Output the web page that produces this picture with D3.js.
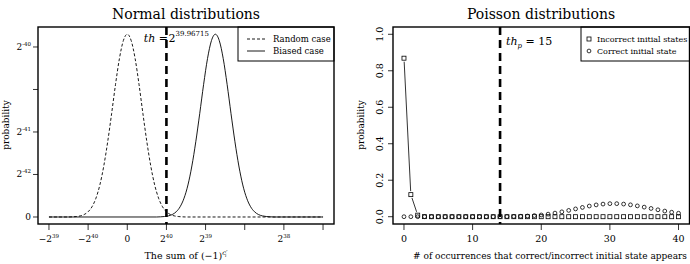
<!DOCTYPE html>
<html>
<head>
<meta charset="utf-8">
<script src="https://cdn.jsdelivr.net/npm/d3@7"></script>
<style>
  body { margin: 0; background: #fff; }
  svg text { font-family: "DejaVu Serif", serif; fill: #000; }
</style>
</head>
<body>
<div id="chart"></div>
<script>
// ---- data: normal distributions (x in tick units, y in tick units) ----
const randomX = [-2, -1.5, -1.4, -1.3, -1.2, -1.1, -1.0, -0.9, -0.8, -0.7, -0.6, -0.5, -0.4, -0.3, -0.2, -0.1, 0,
                 0.1, 0.2, 0.3, 0.4, 0.5, 0.6, 0.7, 0.8, 0.9, 1.0, 1.1, 1.2, 1.3, 1.4, 1.5, 5]
const randomY = [0, 0, 0.004, 0.011, 0.026, 0.058, 0.123, 0.241, 0.442, 0.754, 1.20, 1.77, 2.43, 3.12, 3.73, 4.15, 4.3,
                 4.15, 3.73, 3.12, 2.43, 1.77, 1.20, 0.754, 0.442, 0.241, 0.123, 0.058, 0.026, 0.011, 0.004, 0, 0]
const biasedX = [-2, 0.75, 0.85, 0.95, 1.05, 1.15, 1.25, 1.35, 1.45, 1.55, 1.65, 1.75, 1.85, 1.95, 2.05, 2.15, 2.25,
                 2.35, 2.45, 2.55, 2.65, 2.75, 2.85, 2.95, 3.05, 3.15, 3.25, 3.35, 3.45, 3.55, 3.65, 3.75, 5]
const biasedY = [0, 0, 0.004, 0.011, 0.026, 0.058, 0.123, 0.241, 0.442, 0.754, 1.20, 1.77, 2.43, 3.12, 3.73, 4.15, 4.3,
                 4.15, 3.73, 3.12, 2.43, 1.77, 1.20, 0.754, 0.442, 0.241, 0.123, 0.058, 0.026, 0.011, 0.004, 0, 0]
const normXTicks = [-2, -1, 0, 1, 2, 3, 4, 5]
const normXLabels = [["−2", "39"], ["−2", "40"], ["0", ""], ["2", "40"], ["2", "39"], null, ["2", "38"], null]
const normYTicks = [0, 1, 2, 3, 4]
const normYLabels = [["0", ""], ["2", "-42"], ["2", "-41"], null, ["2", "-40"]]
const normThreshold = 1

// ---- data: poisson distributions ----
const occurrences = d3.range(0, 41)
const incorrectProb = [0.869, 0.121, 0.0085, 0.0004, 0, 0, 0, 0, 0, 0, 0, 0, 0, 0, 0, 0, 0, 0, 0, 0, 0,
                       0, 0, 0, 0, 0, 0, 0, 0, 0, 0, 0, 0, 0, 0, 0, 0, 0, 0, 0, 0]
const correctProb = [0, 0, 0, 0, 0, 0, 0, 0, 0, 0, 0, 0, 0, 0, 0.0003, 0.0006, 0.0012, 0.0022, 0.0038, 0.0061, 0.0095,
                     0.0141, 0.0198, 0.0267, 0.0345, 0.0427, 0.0509, 0.0585, 0.0647, 0.0692, 0.0715,
                     0.0715, 0.0693, 0.0651, 0.0593, 0.0525, 0.0452, 0.0379, 0.0309, 0.0246, 0.0190]
const poisXTicks = [0, 10, 20, 30, 40]
const poisYTicks = [0, 0.2, 0.4, 0.6, 0.8, 1.0]
const poisThreshold = 14

const W = 690, H = 264

const svg = d3.select("#chart").append("svg")
  .attr("width", W).attr("height", H)

// ================= left panel =================
const xL = d3.scaleLinear().domain([-2.28, 5.28]).range([38, 334])
const yL = d3.scaleLinear().domain([-0.165, 4.47]).range([224, 27])

const left = svg.append("g")

left.append("text")
  .attr("x", 186).attr("y", 19)
  .attr("text-anchor", "middle")
  .style("font-size", "14px")
  .text("Normal distributions")

// x ticks
const lx = left.append("g")
normXTicks.forEach(function(t, i) {
  lx.append("line")
    .attr("x1", xL(t)).attr("x2", xL(t))
    .attr("y1", 224).attr("y2", 230)
    .attr("stroke", "#000").attr("stroke-width", 0.8)
  const lab = normXLabels[i]
  if (lab) {
    const tx = lx.append("text")
      .attr("x", xL(t)).attr("y", 242)
      .attr("text-anchor", "middle")
      .style("font-size", "9px")
    tx.append("tspan").text(lab[0])
    if (lab[1]) tx.append("tspan").attr("dy", -4).style("font-size", "5.5px").text(lab[1])
  }
})

// y ticks
normYTicks.forEach(function(t, i) {
  left.append("line")
    .attr("x1", 33).attr("x2", 38)
    .attr("y1", yL(t)).attr("y2", yL(t))
    .attr("stroke", "#000").attr("stroke-width", 0.8)
  const lab = normYLabels[i]
  if (lab) {
    const ty = left.append("text")
      .attr("x", 31).attr("y", yL(t) + 3)
      .attr("text-anchor", "end")
      .style("font-size", "9px")
    ty.append("tspan").text(lab[0])
    if (lab[1]) ty.append("tspan").attr("dy", -4).style("font-size", "5.5px").text(lab[1])
  }
})

left.append("text")
  .attr("transform", "translate(9,125) rotate(-90)")
  .attr("text-anchor", "middle")
  .style("font-size", "9px")
  .text("probability")

const xlab = left.append("text")
  .attr("x", 186).attr("y", 259)
  .attr("text-anchor", "middle")
  .style("font-size", "9.5px")
xlab.append("tspan").text("The sum of (−1)")
xlab.append("tspan").attr("dy", -4).style("font-size", "6.5px").style("font-style", "italic").text("c′")
xlab.append("tspan").attr("dy", 2).attr("dx", -2.5).style("font-size", "4.5px").style("font-style", "italic").text("i")

// curves
const lineL = d3.line()
  .x(function(d) { return xL(d[0]) })
  .y(function(d) { return yL(d[1]) })
  .curve(d3.curveMonotoneX)

left.append("path")
  .datum(d3.zip(biasedX, biasedY))
  .attr("fill", "none").attr("stroke", "#000").attr("stroke-width", 0.9)
  .attr("d", lineL)

left.append("path")
  .datum(d3.zip(randomX, randomY))
  .attr("fill", "none").attr("stroke", "#000").attr("stroke-width", 0.9)
  .attr("stroke-dasharray", "3,2")
  .attr("d", lineL)

// threshold
left.append("line")
  .attr("x1", xL(normThreshold)).attr("x2", xL(normThreshold))
  .attr("y1", 27).attr("y2", 224)
  .attr("stroke", "#000").attr("stroke-width", 2.6)
  .attr("stroke-dasharray", "8,5")

const thL = left.append("text")
  .attr("x", 168).attr("y", 42)
  .attr("text-anchor", "end")
  .style("font-size", "11px")
thL.append("tspan").style("font-style", "italic").text("th")
thL.append("tspan").text(" =")
const thL2 = left.append("text")
  .attr("x", 168.5).attr("y", 42)
  .style("font-size", "11px")
thL2.append("tspan").text("2")
thL2.append("tspan").attr("dy", -6).style("font-size", "7px").text("39.96715")

// legend
left.append("rect")
  .attr("x", 238).attr("y", 27).attr("width", 96).attr("height", 34)
  .attr("fill", "#fff").attr("stroke", "#000").attr("stroke-width", 1)
left.append("line")
  .attr("x1", 247).attr("x2", 265).attr("y1", 39).attr("y2", 39)
  .attr("stroke", "#000").attr("stroke-dasharray", "3,2").attr("stroke-width", 0.9)
left.append("line")
  .attr("x1", 247).attr("x2", 265).attr("y1", 51).attr("y2", 51)
  .attr("stroke", "#000").attr("stroke-width", 0.9)
left.append("text").attr("x", 273).attr("y", 42).style("font-size", "8.5px").text("Random case")
left.append("text").attr("x", 273).attr("y", 54).style("font-size", "8.5px").text("Biased case")

left.append("rect")
  .attr("x", 38).attr("y", 27).attr("width", 296).attr("height", 197)
  .attr("fill", "none").attr("stroke", "#000").attr("stroke-width", 1.4)

// ================= right panel =================
const xR = d3.scaleLinear().domain([-1.6, 41.6]).range([393, 689.5])
const yR = d3.scaleLinear().domain([-0.04, 1.04]).range([224, 27])

const right = svg.append("g")

right.append("text")
  .attr("x", 541).attr("y", 19)
  .attr("text-anchor", "middle")
  .style("font-size", "14px")
  .text("Poisson distributions")

poisXTicks.forEach(function(t) {
  right.append("line")
    .attr("x1", xR(t)).attr("x2", xR(t))
    .attr("y1", 224).attr("y2", 230)
    .attr("stroke", "#000").attr("stroke-width", 0.8)
  right.append("text")
    .attr("x", xR(t)).attr("y", 242)
    .attr("text-anchor", "middle")
    .style("font-size", "9.5px")
    .text(t)
})

poisYTicks.forEach(function(t) {
  right.append("line")
    .attr("x1", 388).attr("x2", 393)
    .attr("y1", yR(t)).attr("y2", yR(t))
    .attr("stroke", "#000").attr("stroke-width", 0.8)
  right.append("text")
    .attr("transform", "translate(383," + yR(t) + ") rotate(-90)")
    .attr("text-anchor", "middle")
    .style("font-size", "9.5px")
    .text(d3.format(".1f")(t))
})

right.append("text")
  .attr("transform", "translate(364,125) rotate(-90)")
  .attr("text-anchor", "middle")
  .style("font-size", "9px")
  .text("probability")

right.append("text")
  .attr("x", 550).attr("y", 259)
  .attr("text-anchor", "middle")
  .style("font-size", "9px")
  .text("# of occurrences that correct/incorrect initial state appears")

// threshold
right.append("line")
  .attr("x1", xR(poisThreshold)).attr("x2", xR(poisThreshold))
  .attr("y1", 27).attr("y2", 224)
  .attr("stroke", "#000").attr("stroke-width", 2.6)
  .attr("stroke-dasharray", "8,5")

const thR = right.append("text")
  .attr("x", 506).attr("y", 45)
  .style("font-size", "11px")
thR.append("tspan").style("font-style", "italic").text("th")
thR.append("tspan").attr("dy", 3).style("font-size", "7px").style("font-style", "italic").text("p")
thR.append("tspan").attr("dy", -3).text(" = 15")

// incorrect: lines with gaps between points
const gap = 3.5
const segs = right.append("g")
for (let i = 0; i < occurrences.length - 1; i++) {
  const x1 = xR(occurrences[i]), y1 = yR(incorrectProb[i])
  const x2 = xR(occurrences[i + 1]), y2 = yR(incorrectProb[i + 1])
  const len = Math.hypot(x2 - x1, y2 - y1)
  if (len <= 2 * gap) continue
  const ux = (x2 - x1) / len, uy = (y2 - y1) / len
  segs.append("line")
    .attr("x1", x1 + ux * gap).attr("y1", y1 + uy * gap)
    .attr("x2", x2 - ux * gap).attr("y2", y2 - uy * gap)
    .attr("stroke", "#000").attr("stroke-width", 0.8)
}

right.append("g").selectAll("circle")
  .data(occurrences)
  .join("circle")
    .attr("cx", function(d) { return xR(d) })
    .attr("cy", function(d, i) { return yR(correctProb[i]) })
    .attr("r", 1.9)
    .attr("fill", "none").attr("stroke", "#000").attr("stroke-width", 0.8)

right.append("g").selectAll("rect")
  .data(occurrences)
  .join("rect")
    .attr("x", function(d) { return xR(d) - 2 })
    .attr("y", function(d, i) { return yR(incorrectProb[i]) - 2 })
    .attr("width", 4).attr("height", 4)
    .attr("fill", "none").attr("stroke", "#000").attr("stroke-width", 0.8)

// legend
right.append("rect")
  .attr("x", 581).attr("y", 27).attr("width", 108.5).attr("height", 34)
  .attr("fill", "#fff").attr("stroke", "#000").attr("stroke-width", 1)
right.append("rect")
  .attr("x", 587).attr("y", 37).attr("width", 4).attr("height", 4)
  .attr("fill", "none").attr("stroke", "#000").attr("stroke-width", 0.8)
right.append("circle")
  .attr("cx", 589).attr("cy", 51).attr("r", 1.9)
  .attr("fill", "none").attr("stroke", "#000").attr("stroke-width", 0.8)
right.append("text").attr("x", 597).attr("y", 42).style("font-size", "8px").text("Incorrect initial states")
right.append("text").attr("x", 597).attr("y", 54).style("font-size", "8px").text("Correct initial state")

right.append("rect")
  .attr("x", 393).attr("y", 27).attr("width", 296.5).attr("height", 197)
  .attr("fill", "none").attr("stroke", "#000").attr("stroke-width", 1.4)
</script>
</body>
</html>
